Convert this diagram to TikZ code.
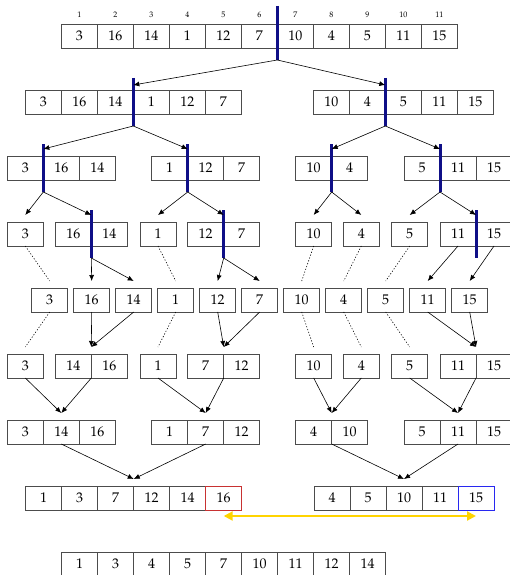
\documentclass[tikz,border=0pt]{standalone}
\usepackage[T1]{fontenc}
\usepackage{mathpazo}
\usetikzlibrary{arrows.meta,positioning}

\definecolor{barraazul}{RGB}{15,15,135}
\definecolor{oro}{RGB}{255,212,0}
\definecolor{rojocelda}{RGB}{200,50,50}
\definecolor{azulcelda}{RGB}{40,40,240}

\tikzset{
  celda/.style={draw=black!70, line width=0.8pt, minimum width=36pt, minimum height=24pt,
    inner sep=0pt, outer sep=0pt, font=\fontsize{14}{16}\selectfont},
  indice/.style={inner sep=0pt, font=\fontsize{8}{9}\selectfont},
  barra/.style={barraazul, line width=3pt},
  flecha/.style={-{Latex[length=6pt,width=5pt]}, line width=0.6pt},
  punteada/.style={line width=0.6pt, dash pattern=on 1.2pt off 1.8pt},
  cambio/.style={oro, line width=2pt, {Triangle[length=9pt,width=9pt]}-{Triangle[length=9pt,width=9pt]}},
}

% arreglo: nombre, borde izquierdo, centro vertical, valores
\newcommand{\arreglo}[4]{%
  \foreach \v [count=\i] in {#4}
    \node[celda] (#1-\i) at ({#2+36*\i-18},#3) {\v};
}

\begin{document}
\begin{tikzpicture}[x=1pt,y=-1pt]
  \clip (0,0) rectangle (510,575);
  % Arreglo original con sus indices
  \arreglo{r0}{61.3}{36}{3,16,14,1,12,7,10,4,5,11,15}
  \foreach \i in {1,...,11}
    \node[indice, above=6.5pt of r0-\i] (i\i) {\i};
  % Division en dos mitades
  \arreglo{r1a}{25.3}{102}{3,16,14,1,12,7}
  \arreglo{r1b}{313.3}{102}{10,4,5,11,15}
  % Cuartos
  \arreglo{r2a}{7.3}{168}{3,16,14}
  \arreglo{r2b}{151.7}{168}{1,12,7}
  \arreglo{r2c}{295.7}{168}{10,4}
  \arreglo{r2d}{404}{168}{5,11,15}
  % Octavos
  \arreglo{r3a}{7.3}{234}{3}
  \arreglo{r3b}{55.3}{234}{16,14}
  \arreglo{r3c}{140}{234}{1}
  \arreglo{r3d}{187.7}{234}{12,7}
  \arreglo{r3e}{295.7}{234}{10}
  \arreglo{r3f}{343.3}{234}{4}
  \arreglo{r3g}{391.7}{234}{5}
  \arreglo{r3h}{440}{234}{11,15}
  % Elementos sueltos
  \foreach \v [count=\i] in {3,16,14,1,12,7,10,4,5,11,15}
    \node[celda] (r4-\i) at ({42*\i+7.7},300) {\v};
  % Primera mezcla
  \arreglo{r5a}{7.3}{366}{3}
  \arreglo{r5b}{55.3}{366}{14,16}
  \arreglo{r5c}{140}{366}{1}
  \arreglo{r5d}{187.7}{366}{7,12}
  \arreglo{r5e}{295.7}{366}{10}
  \arreglo{r5f}{343.3}{366}{4}
  \arreglo{r5g}{391.7}{366}{5}
  \arreglo{r5h}{440}{366}{11,15}
  % Segunda mezcla
  \arreglo{r6a}{7.3}{432}{3,14,16}
  \arreglo{r6b}{151.7}{432}{1,7,12}
  \arreglo{r6c}{295.7}{432}{4,10}
  \arreglo{r6d}{404}{432}{5,11,15}
  % Tercera mezcla
  \arreglo{r7a}{25.7}{498}{1,3,7,12,14,16}
  \arreglo{r7b}{314}{498}{4,5,10,11,15}
  \draw[rojocelda, line width=0.8pt] (r7a-6.south west) rectangle (r7a-6.north east);
  \draw[azulcelda, line width=0.8pt] (r7b-5.south west) rectangle (r7b-5.north east);
  % Resultado
  \arreglo{r8}{61.7}{564}{1,3,4,5,7,10,11,12,14}

  % Barras de division
  \draw[barra] ([yshift=18pt]r0-6.north east) -- ([yshift=-12pt]r0-6.south east);
  \foreach \c in {r1a-3,r1b-2,r2a-1,r2b-1,r2c-1,r2d-1,r3b-1,r3d-1,r3h-1}
    \draw[barra] ([yshift=12pt]\c.north east) -- ([yshift=-12pt]\c.south east);

  % Flechas de division
  \draw[flecha] ([yshift=-12pt]r0-6.south east) -- ([yshift=5pt]r1a-3.north east);
  \draw[flecha] ([yshift=-12pt]r0-6.south east) -- ([yshift=5pt]r1b-2.north east);
  \draw[flecha] ([yshift=-12pt]r1a-3.south east) -- ([yshift=7pt]r2a-1.north east);
  \draw[flecha] ([yshift=-12pt]r1a-3.south east) -- ([yshift=7pt]r2b-1.north east);
  \draw[flecha] ([yshift=-12pt]r1b-2.south east) -- ([yshift=7pt]r2c-1.north east);
  \draw[flecha] ([yshift=-12pt]r1b-2.south east) -- ([yshift=7pt]r2d-1.north east);
  \draw[flecha] ([yshift=-12pt]r2a-1.south east) -- ([yshift=7pt]r3a-1.north);
  \draw[flecha] ([yshift=-12pt]r2a-1.south east) -- ([yshift=7pt]r3b-1.north east);
  \draw[flecha] ([yshift=-12pt]r2b-1.south east) -- ([yshift=7pt]r3c-1.north);
  \draw[flecha] ([yshift=-12pt]r2b-1.south east) -- ([yshift=7pt]r3d-1.north east);
  \draw[flecha] ([yshift=-12pt]r2c-1.south east) -- ([yshift=7pt]r3e-1.north);
  \draw[flecha] ([yshift=-12pt]r2c-1.south east) -- ([yshift=7pt]r3f-1.north);
  \draw[flecha] ([yshift=-12pt]r2d-1.south east) -- ([yshift=7pt]r3g-1.north);
  \draw[flecha] ([yshift=-12pt]r2d-1.south east) -- ([yshift=7pt]r3h-1.north east);
  % Hasta elementos sueltos
  \draw[punteada] (r3a-1.south) -- ([yshift=7pt]r4-1.north);
  \draw[flecha] ([yshift=-12pt]r3b-1.south east) -- ([yshift=7pt]r4-2.north);
  \draw[flecha] ([yshift=-12pt]r3b-1.south east) -- ([yshift=7pt]r4-3.north);
  \draw[punteada] (r3c-1.south) -- ([yshift=7pt]r4-4.north);
  \draw[flecha] ([yshift=-12pt]r3d-1.south east) -- ([yshift=7pt]r4-5.north);
  \draw[flecha] ([yshift=-12pt]r3d-1.south east) -- ([yshift=7pt]r4-6.north);
  \draw[punteada] (r3e-1.south) -- ([yshift=7pt]r4-7.north);
  \draw[punteada] (r3f-1.south) -- ([yshift=7pt]r4-8.north);
  \draw[punteada] (r3g-1.south) -- ([yshift=7pt]r4-9.north);
  \draw[flecha] (r3h-1.south) -- ([yshift=7pt]r4-10.north);
  \draw[flecha] (r3h-2.south) -- ([yshift=7pt]r4-11.north);
  % Flechas de mezcla
  \draw[punteada] (r4-1.south) -- ([yshift=7pt]r5a-1.north);
  \draw[flecha] (r4-2.south) -- ([yshift=7pt]r5b-1.north east);
  \draw[flecha] (r4-3.south) -- ([yshift=7pt]r5b-1.north east);
  \draw[punteada] (r4-4.south) -- ([yshift=7pt]r5c-1.north);
  \draw[flecha] (r4-5.south) -- ([yshift=7pt]r5d-1.north east);
  \draw[flecha] (r4-6.south) -- ([yshift=7pt]r5d-1.north east);
  \draw[punteada] (r4-7.south) -- ([yshift=7pt]r5e-1.north);
  \draw[punteada] (r4-8.south) -- ([yshift=7pt]r5f-1.north);
  \draw[punteada] (r4-9.south) -- ([yshift=7pt]r5g-1.north);
  \draw[flecha] (r4-10.south) -- ([yshift=7pt]r5h-1.north east);
  \draw[flecha] (r4-11.south) -- ([yshift=7pt]r5h-1.north east);
  \draw[flecha] (r5a-1.south) -- ([yshift=7pt]r6a-2.north);
  \draw[flecha] (r5b-1.south east) -- ([yshift=7pt]r6a-2.north);
  \draw[flecha] (r5c-1.south) -- ([yshift=7pt]r6b-2.north);
  \draw[flecha] (r5d-1.south east) -- ([yshift=7pt]r6b-2.north);
  \draw[flecha] (r5e-1.south) -- ([yshift=7pt]r6c-1.north east);
  \draw[flecha] (r5f-1.south) -- ([yshift=7pt]r6c-1.north east);
  \draw[flecha] (r5g-1.south) -- ([yshift=7pt]r6d-2.north);
  \draw[flecha] (r5h-1.south east) -- ([yshift=7pt]r6d-2.north);
  \draw[flecha] (r6a-2.south) -- ([yshift=7pt]r7a-3.north east);
  \draw[flecha] (r6b-2.south) -- ([yshift=7pt]r7a-3.north east);
  \draw[flecha] (r6c-1.south east) -- ([yshift=7pt]r7b-3.north);
  \draw[flecha] (r6d-2.south) -- ([yshift=7pt]r7b-3.north);
  % Comparacion de los ultimos
  \draw[cambio] ([yshift=-6pt]r7a-6.south) -- ([yshift=-6pt]r7b-5.south);
\end{tikzpicture}
\end{document}
